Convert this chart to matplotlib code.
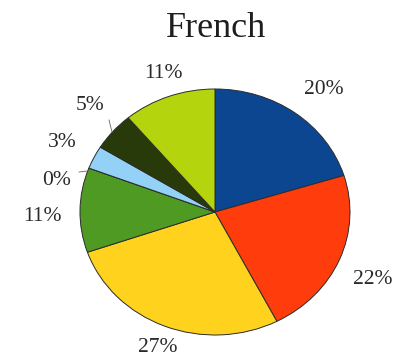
import matplotlib.pyplot as plt
import numpy as np

# share of each group, clockwise from the top
shares = [20, 22, 27, 11, 0, 3, 5, 11]
colors = ["#0d4690", "#ff3d0c", "#ffd21e", "#4f9a22", "#1e3a10", "#93d2f6", "#293a0a", "#b4d40e"]
labels = ["%d%%" % s for s in shares]

# label radius and angle nudge (degrees) for each wedge
label_r = [1.28, 1.29, 1.18, 1.28, 1.20, 1.265, 1.27, 1.19]
label_da = [-2.7, -2.6, 0.9, 2.7, 8.4, 0, -2.3, -1.2]

plt.rcParams['font.family'] = ['Liberation Serif', 'DejaVu Serif']

fig = plt.figure(figsize=(4, 3.64), dpi=100)
ax = fig.add_axes([0, 0, 1, 1])

wedges, _ = ax.pie(shares, colors=colors, startangle=90, counterclock=False,
                   wedgeprops=dict(edgecolor="#2b2b2b", linewidth=0.7))

# slightly wider than tall, like the original sheet
ax.set_aspect('auto')
ax.set_xlim(-215 / 135, 185 / 135)
ax.set_ylim(-152 / 123, 212 / 123)
ax.axis('off')

for w, lab, r, da in zip(wedges, labels, label_r, label_da):
    mid = np.deg2rad((w.theta1 + w.theta2) / 2 + da)
    x, y = r * np.cos(mid), r * np.sin(mid)
    ax.text(x, y, lab, ha='center', va='center', fontsize=15.5, color="#2a2a2a")

# leader lines for the two thinnest wedges
ax.plot([-1.007, -0.948], [0.325, 0.333], color="#666666", lw=0.6)
ax.plot([-0.785, -0.763], [0.748, 0.650], color="#666666", lw=0.6)

fig.text(216 / 400, 1 - 37 / 364, "French", ha='center', va='baseline',
         fontsize=26, color="#1e1e1e")

fig.savefig("out.png", dpi=100)
